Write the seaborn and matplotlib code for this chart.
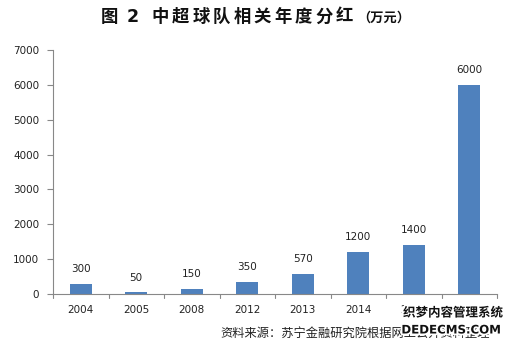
import matplotlib
matplotlib.use("Agg")
import matplotlib.pyplot as plt
import matplotlib.patheffects as pe
import seaborn as sns
import pandas as pd

years = ["2004", "2005", "2008", "2012", "2013", "2014", "2015", "2016"]
dividends = [300, 50, 150, 350, 570, 1200, 1400, 6000]
y_ticks = [0, 1000, 2000, 3000, 4000, 5000, 6000, 7000]

title_main = "中超球队相关年度分红"
title_unit = "（万元）"

sns.set_theme(style="white")
plt.rcParams["font.family"] = ["Noto Sans CJK SC", "DejaVu Sans"]

df = pd.DataFrame({"year": years, "value": dividends})

W, H = 512, 344
fig = plt.figure(figsize=(W / 100, H / 100), dpi=100)
ax = fig.add_axes([53 / W, 1 - 294 / H, 444 / W, 244 / H])

sns.barplot(data=df, x="year", y="value", color="#4F81BD", width=0.4,
            saturation=1, linewidth=0, ax=ax)

ax.set_ylim(0, 7000)
ax.set_xlim(-0.5, len(years) - 0.5)
ax.set_yticks(y_ticks)
ax.set_yticklabels([str(t) for t in y_ticks], fontsize=7.5, color="#222222",
                   family=["DejaVu Sans"])
ax.set_xticks(range(len(years)))
ax.set_xticklabels(years, fontsize=7.5, color="#222222", family=["DejaVu Sans"])
ax.tick_params(axis="x", length=0, pad=8)
ax.tick_params(axis="y", length=4, width=0.8, color="#888888", direction="out",
               pad=6, left=True)
ax.set_xlabel("")
ax.set_ylabel("")

for side in ["top", "right"]:
    ax.spines[side].set_visible(False)
for side in ["left", "bottom"]:
    ax.spines[side].set_color("#888888")
    ax.spines[side].set_linewidth(0.8)

# tick marks at the category boundaries on the x axis
for b in [i - 0.5 for i in range(len(years) + 1)]:
    ax.plot([b, b], [0, -0.018], transform=ax.get_xaxis_transform(),
            color="#888888", lw=0.8, clip_on=False)

for i, v in enumerate(dividends):
    ax.annotate(str(v), (i, v), xytext=(0, 7), textcoords="offset points",
                ha="center", va="bottom", fontsize=7.5, color="#222222",
                family=["DejaVu Sans"])

# title, set with wide character spacing
ty = 1 - 17 / H
fig.text(109 / W, ty, "图", ha="center", va="center", fontsize=12.5,
         fontweight="bold", color="#111111")
fig.text(133 / W, ty, "2", ha="center", va="center", fontsize=12.5,
         fontweight="bold", color="#111111", family=["DejaVu Sans"])
for k, ch in enumerate(title_main):
    fig.text((160 + 20.5 * k) / W, ty, ch, ha="center", va="center",
             fontsize=12.5, fontweight="bold", color="#111111")
fig.text(357 / W, ty - 0.003, title_unit, ha="left", va="center",
         fontsize=9.5, fontweight="bold", color="#111111")

fig.text(490 / W, 1 - 333 / H, "资料来源：苏宁金融研究院根据网上公开资料整理",
         ha="right", va="center", fontsize=8.8, color="#222222")

halo = [pe.withStroke(linewidth=2.5, foreground="white")]
fig.text(503 / W, 1 - 313 / H, "织梦内容管理系统", ha="right", va="center",
         fontsize=9, fontweight="bold", color="#111111", path_effects=halo)
fig.text(501 / W, 1 - 330 / H, "DEDECMS.COM", ha="right", va="center",
         fontsize=8.5, fontweight="bold", color="#111111",
         family=["DejaVu Sans"], path_effects=halo)

fig.savefig("out.png", dpi=100)
